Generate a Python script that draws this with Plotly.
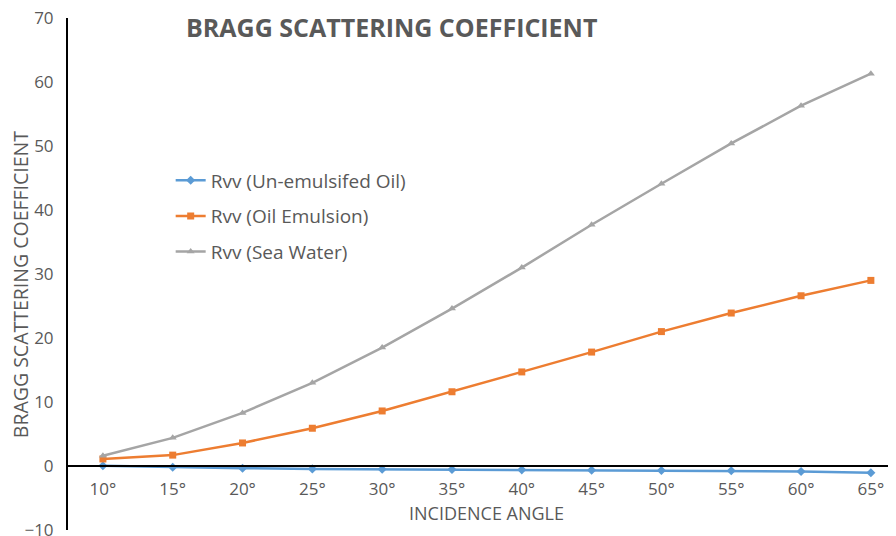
import plotly.graph_objects as go

# incidence angles (category axis)
angles = ['10°', '15°', '20°', '25°', '30°', '35°', '40°', '45°', '50°', '55°', '60°', '65°']

# Bragg scattering coefficient
rvv_unemulsified = [0.05, -0.2, -0.35, -0.45, -0.5, -0.55, -0.6, -0.65, -0.7, -0.75, -0.85, -1.05]
rvv_emulsion = [1.1, 1.7, 3.6, 5.9, 8.6, 11.6, 14.7, 17.8, 21.0, 23.9, 26.6, 29.0]
rvv_sea_water = [1.6, 4.4, 8.3, 13.0, 18.5, 24.6, 31.0, 37.7, 44.1, 50.4, 56.3, 61.3]

y_ticks = [-10, 0, 10, 20, 30, 40, 50, 60, 70]

FONT = "Open Sans"
GRAY = "#595959"

series = [
    ('Rvv (Un-emulsifed Oil)', rvv_unemulsified, '#5B9BD5', 'diamond'),
    ('Rvv (Oil Emulsion)', rvv_emulsion, '#ED7D31', 'square'),
    ('Rvv (Sea Water)', rvv_sea_water, '#A5A5A5', 'triangle-up'),
]

fig = go.Figure()
for i, (name, vals, color, symbol) in enumerate(series):
    fig.add_trace(go.Scatter(
        x=angles, y=vals, name=name, mode='lines+markers',
        line=dict(color=color, width=2.5),
        marker=dict(symbol=symbol, size=7, color=color),
        legendgroup=f'g{i}',
    ))

# page body has an 8px margin, so the figure is 8px smaller than the window
fig.update_layout(
    width=888, height=528,
    margin=dict(l=60, r=0, t=10, b=6),
    plot_bgcolor='white', paper_bgcolor='white',
    font=dict(family=FONT, color=GRAY),
    showlegend=True,
    legend=dict(
        x=0.124, y=0.72, xanchor='left', yanchor='top',
        font=dict(size=19, color=GRAY, family=FONT),
        tracegroupgap=8, itemwidth=30, bgcolor='rgba(0,0,0,0)',
    ),
)

# y position of zero in paper coords: range -10..70
zero_pos = (0 - (-10)) / 80

fig.update_xaxes(
    type='category', range=[-0.5, 11.36],
    anchor='free', position=zero_pos, automargin=False,
    showline=True, linecolor='black', linewidth=2,
    showgrid=False, ticks='', zeroline=False,
    tickfont=dict(size=17, color=GRAY, family=FONT),
    ticklabelstandoff=8,
)
fig.update_yaxes(
    range=[-10, 70], tickvals=y_ticks, automargin=False,
    showline=True, linecolor='black', linewidth=2,
    showgrid=False, zeroline=False, ticks='',
    tickfont=dict(size=17, color=GRAY, family=FONT),
    ticklabelstandoff=9, ticklabeloverflow='allow',
)

fig.add_annotation(
    text='<b>BRAGG SCATTERING COEFFICIENT</b>', xref='paper', yref='paper',
    x=0.391, y=0.982, yanchor='middle',
    showarrow=False, font=dict(size=25, color=GRAY, family=FONT),
)
fig.add_annotation(
    text='INCIDENCE ANGLE', xref='paper', yref='paper',
    x=0.505, y=0.034, yanchor='middle',
    showarrow=False, font=dict(size=18, color=GRAY, family=FONT),
)
fig.add_annotation(
    text='BRAGG SCATTERING COEFFICIENT', xref='paper', yref='paper',
    x=-0.058, y=0.48, xanchor='center', yanchor='middle',
    textangle=-90, showarrow=False, font=dict(size=19.5, color=GRAY, family=FONT),
)

fig.write_html("out.html")
